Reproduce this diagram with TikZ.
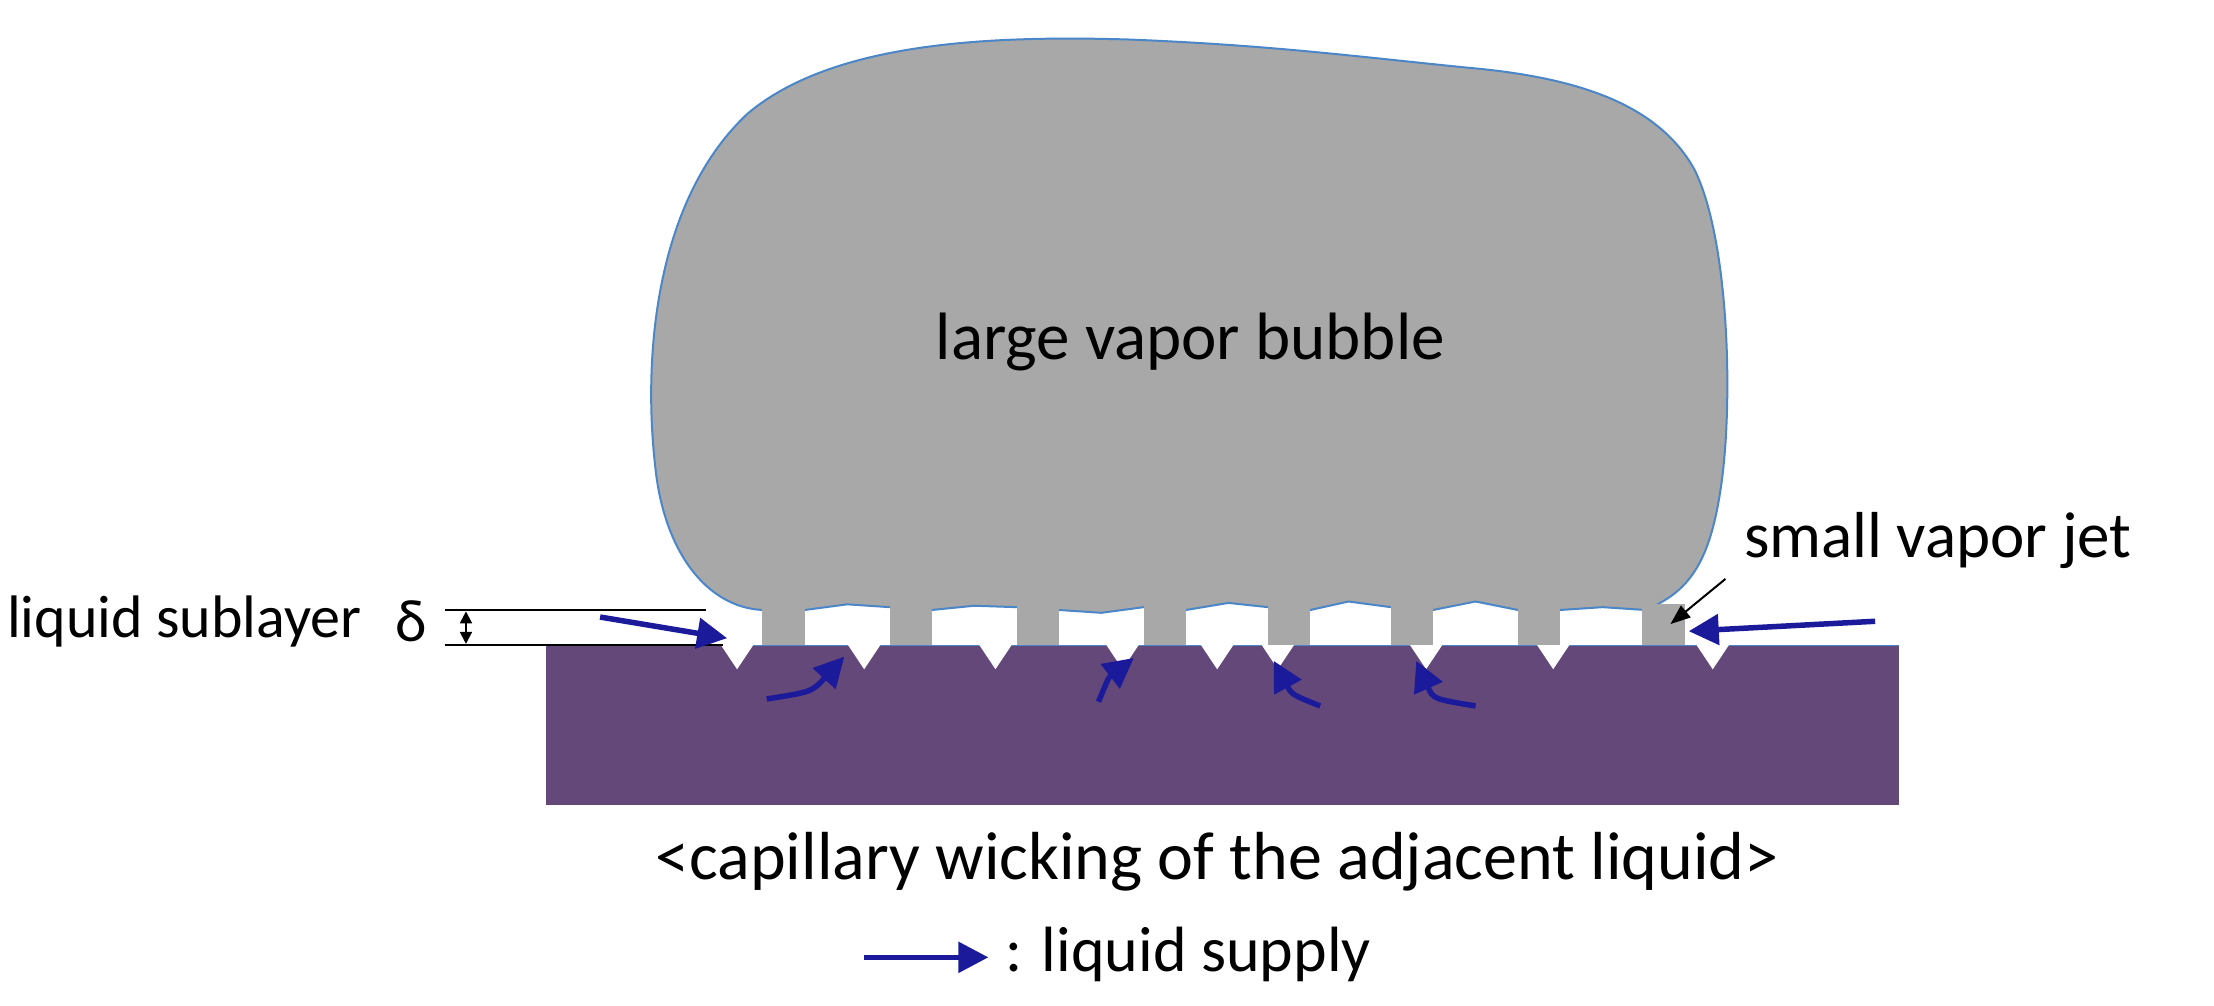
\documentclass[tikz,border=0pt]{standalone}
\usepackage{fontspec}
\setmainfont{Carlito}
\usetikzlibrary{arrows.meta}
\definecolor{bub}{HTML}{A8A8A8}
\definecolor{edge}{HTML}{4A86C8}
\definecolor{purp}{HTML}{65487A}
\definecolor{navy}{HTML}{1A1A9A}
\begin{document}
\begin{tikzpicture}[x=1.412pt,y=-1.412pt,
  lbl/.style={inner sep=0pt,anchor=west},
  sup/.style={navy,line width=5.5pt,-{Triangle[length=30pt,width=30pt]}},
  dim/.style={black,line width=2pt}]
\useasboundingbox (0,0) rectangle (1568,712);
% substrate
\fill[purp] (387,457) rectangle (1345,570);
\draw[edge,line width=1.4pt] (387,457) -- (1345,457);
% notches
\foreach \x in {522,612,705,795,862,905,1010,1100,1213}
  \fill[white] (\x-12,456) -- (\x+12,456) -- (\x,474) -- cycle;
% bubble
\fill[bub,draw=edge,line width=2pt] (540,432)
  .. controls (500,430) and (470,390) .. (464,330)
  .. controls (455,250) and (465,140) .. (530,80)
  .. controls (590,30) and (700,25) .. (800,28)
  .. controls (900,32) and (960,40) .. (1040,48)
  .. controls (1120,55) and (1175,75) .. (1200,120)
  .. controls (1225,170) and (1228,290) .. (1218,350)
  .. controls (1210,400) and (1195,420) .. (1165,432)
  -- (1135,430) -- (1105,432) -- (1075,432) -- (1045,426) -- (1015,432)
  -- (985,430) -- (955,426) -- (928,432) -- (898,430) -- (870,427) -- (840,432)
  -- (810,430) -- (780,434) -- (750,432) -- (720,430) -- (690,429) -- (660,432)
  -- (630,430) -- (600,428) -- (570,432) -- cycle;
% jets
\foreach \x in {540,630,720,810,898,985,1075,1163}
  \fill[bub] (\x,428) rectangle (\x+30,457);
\node (bubble) at (843,242) {\fontsize{67}{80}\selectfont large vapor bubble};
% sublayer dimension
\coordinate (t1) at (315,432); \coordinate (t2) at (500,432);
\coordinate (b1) at (315,457); \coordinate (b2) at (512,457);
\draw[dim] (t1) -- (t2); \draw[dim] (b1) -- (b2);
\coordinate (d1) at (330,433); \coordinate (d2) at (330,456);
\draw[dim,{Triangle[length=12pt,width=12pt]}-{Triangle[length=12pt,width=12pt]}] (d1) -- (d2);
\node[lbl] (sub) at (5,440) {\fontsize{60}{72}\selectfont liquid sublayer};
\node[lbl] (delta) at (280,440) {\fontsize{60}{72}\selectfont δ};
% small vapor jet
\node[lbl] (jet) at (1235,383) {\fontsize{65}{78}\selectfont small vapor jet};
\coordinate (jt) at (1183,442);
\draw[black,line width=2pt,-{Triangle[length=20pt,width=15pt]}] (1222,410) -- (jt);
% supply arrows
\coordinate (a1s) at (425,437); \coordinate (a1e) at (515,452);
\draw[sup] (a1s) -- (a1e);
\coordinate (a2s) at (1328,440); \coordinate (a2e) at (1196,447);
\draw[sup] (a2s) -- (a2e);
\coordinate (c1s) at (543,495); \coordinate (c1e) at (598,465);
\draw[sup] (c1s) .. controls (575,490) .. (c1e);
\coordinate (c2s) at (778,497); \coordinate (c2e) at (803,466);
\draw[sup] (c2s) .. controls (785,480) .. (c2e);
\coordinate (c3s) at (935,500); \coordinate (c3e) at (902,468);
\draw[sup] (c3s) .. controls (915,492) .. (c3e);
\coordinate (c4s) at (1045,500); \coordinate (c4e) at (1003,468);
\draw[sup] (c4s) .. controls (1015,495) .. (c4e);
% caption
\node (cap) at (862,610) {\fontsize{68}{82}\selectfont <capillary wicking of the adjacent liquid>};
\coordinate (ls) at (612,678); \coordinate (le) at (700,678);
\draw[sup] (ls) -- (le);
\node[lbl] (leg) at (712,676) {\fontsize{64}{77}\selectfont : liquid supply};
\end{tikzpicture}
\end{document}
